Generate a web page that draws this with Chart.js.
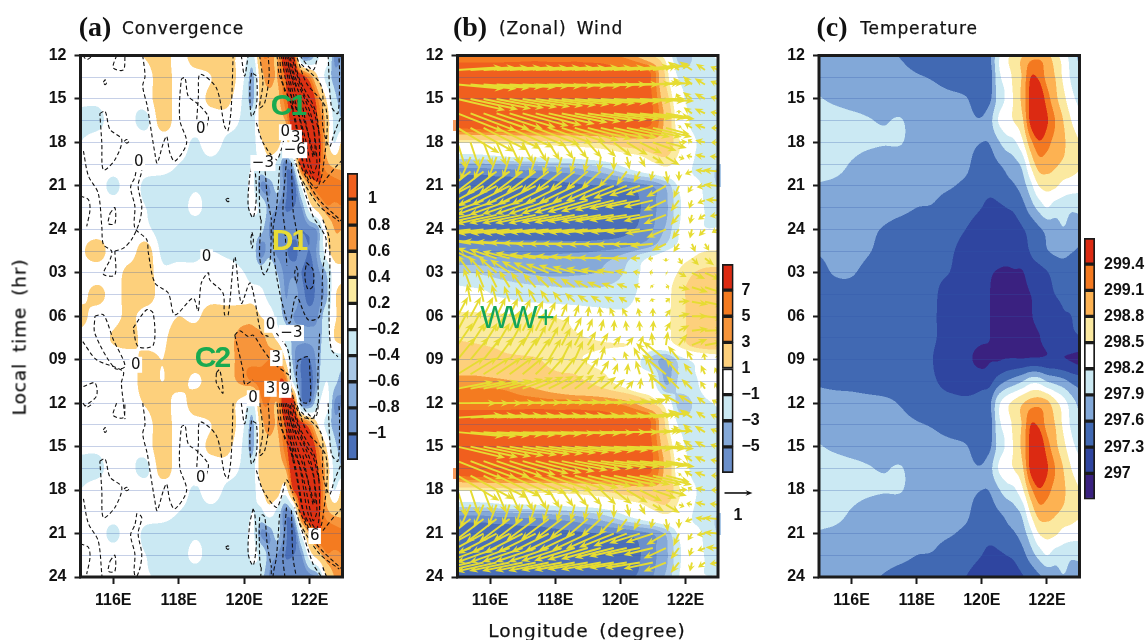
<!DOCTYPE html>
<html><head><meta charset="utf-8">
<script src="https://cdn.jsdelivr.net/npm/chart.js@4"></script>
<style>
html,body{margin:0;padding:0;background:#fff;width:1146px;height:640px;overflow:hidden}
canvas{position:absolute;left:0;top:0;pointer-events:none}
.t{position:absolute;white-space:nowrap;transform:translate(-50%,-50%);color:#111}
.n{font:bold 28px "Liberation Serif",serif}
.g{font:17px "DejaVu Sans",sans-serif;letter-spacing:.9px;word-spacing:4px;-webkit-text-stroke:.25px #111}
.m{font:bold 30px "Liberation Sans",sans-serif;letter-spacing:-2px}
.s{position:absolute}
</style></head><body>
<div class="s" style="left:453px;top:120px;width:5px;height:11px;background:#F79A5C"></div>
<div class="s" style="left:453px;top:468px;width:5px;height:11px;background:#F79A5C"></div>
<div class="s" style="left:717px;top:164px;width:4px;height:23px;background:#A9C7E6"></div>
<div class="s" style="left:717px;top:513px;width:4px;height:22px;background:#A9C7E6"></div>
<canvas id="ca" width="1146" height="640"></canvas>
<canvas id="cb" width="1146" height="640"></canvas>
<canvas id="cc" width="1146" height="640"></canvas>
<canvas id="ba" width="1146" height="640"></canvas>
<canvas id="bb" width="1146" height="640"></canvas>
<canvas id="bc" width="1146" height="640"></canvas>
<div class="t n" style="left:95px;top:27px">(a)</div>
<div class="t g" style="left:183px;top:28px">Convergence</div>
<div class="t n" style="left:470px;top:27px">(b)</div>
<div class="t g" style="left:561px;top:28px">(Zonal) Wind</div>
<div class="t n" style="left:832px;top:27px">(c)</div>
<div class="t g" style="left:919px;top:28px">Temperature</div>
<div class="t g" style="left:587px;top:630px;font-size:18.5px">Longitude (degree)</div>
<div class="t g" style="left:19px;top:337px;font-size:18.5px;transform:translate(-50%,-50%) rotate(-90deg)">Local time (hr)</div>
<div class="t m" style="left:288px;top:105px;color:#19AA50">C1</div>
<div class="t m" style="left:212px;top:357px;color:#19AA50">C2</div>
<div class="t m" style="left:289px;top:240px;color:#E8DC35">D1</div>
<div class="t" style="left:517px;top:318px;font:31px 'Liberation Sans',sans-serif;color:#12A55A;letter-spacing:-1px">WW+</div>
<div class="t" style="left:738px;top:515px;font:bold 16px 'Liberation Sans',sans-serif">1</div>
<script>
const lonTicks=[116,118,120,122];
const lonTickLabels=['116E','118E','120E','122E'];
const hourTickLabels=['12','15','18','21','24','03','06','09','12','15','18','21','24'];
const lonFine=[115,115.5,116,116.5,117,117.5,118,118.5,119,119.5,120,120.25,120.5,120.75,121,121.25,121.5,121.75,122,122.25,122.5,122.75,123];
const hoursFine=[12,13.5,15,16.5,18,19.5,21,22.5,24,25.5,27,28.5,30,31.5,33,34.5];
const convergence=[
[0,0,0,0,.25,.45,0,.45,.45,.35,0,-.3,.7,.8,.6,1.3,1.2,-.8,-.9,-.3,0,-.8,-.8],
[0,0,0,0,0,.45,0,0,.2,.45,-.2,-.7,.4,.7,.6,1,1.3,1.2,.8,.2,-.3,-.7,-.6],
[-.1,-.1,0,-.1,0,.45,0,0,.3,.3,-.3,-.7,.4,.5,.5,.9,1.3,1.3,1.3,.8,.2,-.5,-.7],
[-.35,-.35,0,-.1,-.3,.4,0,0,0,0,-.3,-.4,.4,.45,.45,.6,1.3,1.3,1.3,1,.5,-.3,-.6],
[-.2,0,0,0,0,0,0,-.25,0,-.3,-.35,-.35,.1,.45,.45,0,1,1.3,1.3,1.2,.5,-.2,.35],
[0,0,0,0,0,0,-.2,-.3,-.3,-.4,-.4,-.2,-.3,0,-.3,-.9,-.5,1.2,1.3,1.1,.7,.5,.5],
[0,0,-.3,0,-.3,-.4,-.4,-.25,-.35,-.4,-.35,-.1,-.8,-.8,-.5,-.9,-1.2,-.1,.7,.95,.95,.9,.85],
[0,0,0,0,-.2,-.4,-.4,-.1,-.4,-.4,-.4,-.1,-.3,-.7,-.8,-1,-1,-.8,0,.4,.75,.75,.8],
[0,0,0,0,-.1,-.4,-.4,-.4,-.4,-.4,-.4,-.4,-.5,-.8,-.9,-.9,-.9,-1,-.9,-.7,.2,.6,.6],
[.1,.4,0,0,.4,-.3,-.4,-.3,-.2,-.3,-.4,-.4,-.9,-.7,-.85,-.95,-1.1,-.9,-1,-.7,0,.4,.45],
[0,0,0,.35,.45,-.1,0,-.1,0,0,-.2,-.35,-.4,-.35,-.6,-.85,-.85,-1,-1.1,-.85,-.6,0,.1],
[0,.35,.05,.4,.45,0,0,0,0,0,0,0,-.1,-.3,-.4,-.8,-.7,-.9,-1.1,-.9,-.7,.1,.4],
[.4,0,.05,.3,0,0,.2,.1,.45,.4,.45,.45,.2,0,-.3,-.7,-.8,-.85,-.9,-.8,-.4,.1,.45],
[0,0,.25,.4,0,.1,.45,.45,.45,.5,.75,.75,.75,.45,.1,-.3,-.7,-.75,-.75,-.7,-.4,.2,.4],
[0,0,0,0,.35,.2,.45,.45,.45,.5,.75,.75,.75,.8,.85,.2,-.7,-1,-1,-.7,-.4,-.4,-.4],
[0,0,0,0,.4,.2,.4,.1,.45,.5,.7,.8,.9,.9,.95,.95,-.3,-1,-1.1,-.7,-.2,-.5,-.75]];
const temperature=[
[297.75,297.75,297.75,297.72,297.68,297.58,297.5,297.45,297.4,297.35,297.4,297.55,298.1,298.4,298.6,298.78,298.95,299,298.9,298.6,298.35,298.05,297.8],
[297.78,297.78,297.78,297.75,297.7,297.66,297.62,297.58,297.5,297.42,297.38,297.45,298.1,298.3,298.6,298.85,299.4,299.35,299,298.8,298.45,298.15,297.95],
[297.92,297.85,297.8,297.78,297.75,297.72,297.7,297.68,297.66,297.62,297.45,297.55,298,298.25,298.55,298.9,299.5,299.7,299.25,298.9,298.6,298.3,298.1],
[298.05,298.03,297.98,297.92,297.88,297.92,297.75,297.72,297.7,297.66,297.62,297.8,298.2,298.4,298.52,298.75,299.5,299.9,299.45,299.1,298.8,298.5,298.3],
[298.1,298.05,298,297.95,297.92,297.92,297.75,297.72,297.7,297.66,297.6,297.62,297.85,298.05,298.15,298.45,299,299.35,299.2,299,298.85,298.65,298.5],
[298.02,297.98,297.88,297.78,297.72,297.7,297.68,297.66,297.65,297.65,297.45,297.48,297.58,297.68,297.8,298,298.55,298.95,298.95,298.85,298.75,298.65,298.55],
[297.88,297.85,297.8,297.75,297.7,297.66,297.66,297.65,297.62,297.55,297.42,297.42,297.45,297.52,297.58,297.75,298.1,298.5,298.6,298.55,298.4,298.35,298.3],
[297.78,297.76,297.74,297.72,297.7,297.66,297.6,297.58,297.48,297.42,297.3,297.2,297.25,297.3,297.35,297.5,297.75,298,298.2,298.05,298.02,297.95,297.98],
[297.72,297.7,297.68,297.65,297.58,297.5,297.45,297.42,297.4,297.3,297.15,297.12,297.12,297.15,297.2,297.28,297.4,297.55,297.68,297.78,297.88,297.8,297.72],
[297.62,297.66,297.68,297.62,297.52,297.47,297.42,297.38,297.34,297.2,297.12,297.1,297.1,297.12,297.15,297.2,297.32,297.45,297.58,297.65,297.68,297.62,297.56],
[297.52,297.62,297.62,297.52,297.42,297.38,297.36,297.34,297.3,297.15,297.08,297.02,296.98,296.95,296.97,296.98,297.15,297.2,297.28,297.4,297.45,297.42,297.38],
[297.42,297.48,297.5,297.42,297.38,297.36,297.34,297.33,297.2,297.12,297.05,297,296.9,296.85,296.85,296.9,297,297.1,297.2,297.3,297.34,297.33,297.36],
[297.42,297.42,297.42,297.42,297.42,297.4,297.38,297.32,297.22,297.12,297.05,297,296.9,296.82,296.8,296.85,296.97,297.1,297.15,297.2,297.28,297.3,297.35],
[297.42,297.42,297.42,297.42,297.42,297.4,297.38,297.32,297.22,297.12,297.05,297,296.92,296.85,296.82,296.85,296.9,296.98,297.1,297.15,297.22,297.25,297.28],
[297.42,297.42,297.42,297.42,297.4,297.38,297.36,297.3,297.15,297.08,296.9,296.98,296.98,297.02,297.03,297.03,297.05,297.05,297.05,297.05,297.02,296.98,296.92],
[297.55,297.5,297.47,297.42,297.38,297.37,297.36,297.33,297.2,297.18,297.2,297.22,297.45,297.62,297.75,297.9,298.1,298.1,297.9,297.8,297.7,297.55,297.45]];
const lonWind=[115,115.4,115.8,116.2,116.6,117,117.4,117.8,118.2,118.6,119,119.4,119.8,120.2,120.6,121,121.4,121.8,122.2,122.6,123];
const hoursWind=[12,13,14,15,16,17,18,19,20,21,22,23,24,25,26,27,28,29,30,31,32,33,34,35];
const uWind=[
[5.6,5.6,5.6,5.6,5.6,5.6,5.6,5.5,5.5,5.5,5.4,5.3,5,4.5,3.5,2,.3,-2.4,-2,-1.2,-.9],
[6.4,6.4,6.4,6.4,6.4,6.4,6.4,6.4,6.3,6.3,6.3,6.3,6.2,6.2,6.1,5.4,1.5,-1.6,-1.8,-1.3,-1.1],
[6.6,6.6,6.6,6.6,6.6,6.6,6.6,6.6,6.6,6.6,6.6,6.6,6.5,6.4,6.3,5.7,2,-.8,-1.3,-1.5,-1.1],
[6.8,6.8,6.8,6.8,6.8,6.8,6.8,6.8,6.8,6.8,6.8,6.8,6.7,6.6,6.5,5.9,2.8,-.4,-1.3,-1.5,-1.1],
[6.6,6.6,6.6,6.6,6.6,6.6,6.6,6.6,6.6,6.6,6.6,6.6,6.6,6.5,6.4,6,3.5,0,-1.2,-1.5,-1.1],
[6,6.2,6.3,6.3,6.3,6.3,6.3,6.3,6.3,6.3,6.3,6.3,6.2,6.2,6,5.6,3.4,.3,-1.1,-1.5,-1],
[1.2,1.2,1.3,1.4,1.5,1.5,1.6,1.6,1.7,1.8,2,2.2,2.6,3,3.2,3.4,3,1.2,-.6,-1.4,-1],
[-1.5,-1.5,-1.4,-1.2,-1,-1,-.9,-.8,-.7,-.6,-.5,-.3,0,.4,.8,1.6,2,.8,-.8,-1.4,-1.2],
[-4.6,-4.6,-4.6,-4.4,-4.4,-4.2,-4.2,-4,-3.8,-3.6,-3.2,-2.8,-2.2,-1.5,-.9,-.3,.3,0,-1,-1.4,-2.2],
[-5.6,-5.6,-5.6,-5.6,-5.5,-5.5,-5.5,-5.4,-5.3,-5.2,-5.1,-5,-5,-4.8,-4.4,-3.9,-2.8,-.8,-.6,-1.2,-2.1],
[-5.8,-5.8,-5.8,-5.8,-5.8,-5.8,-5.8,-5.8,-5.8,-5.8,-5.8,-5.7,-5.6,-5.4,-5,-4.2,-3.2,-1.2,-.4,-1.1,-1.8],
[-5.8,-5.8,-5.8,-5.8,-5.8,-5.8,-5.8,-5.8,-5.8,-5.8,-5.8,-5.7,-5.6,-5.4,-5,-4.2,-3.2,-1.2,-.3,-1,-1.2],
[-5.6,-5.6,-5.6,-5.6,-5.6,-5.6,-5.6,-5.6,-5.6,-5.6,-5.6,-5.6,-5.5,-5.2,-4.8,-4,-2.8,-1,-.3,-.9,-.9],
[-4.8,-4.8,-4.8,-4.8,-4.8,-4.8,-4.8,-4.8,-4.8,-4.8,-4.8,-4.7,-4.6,-4.4,-4,-3.3,-2,-.8,.5,.6,.7],
[-3.8,-3.8,-3.8,-3.9,-3.9,-3.9,-3.8,-3.8,-3.7,-3.6,-3.5,-3.3,-3,-2.3,-1.4,-.7,0,.5,1,1.3,1.3],
[-2,-2,-2.2,-2.5,-2.8,-3,-3.2,-3.3,-3.3,-3.2,-3.1,-2.9,-2.5,-1.8,-1,-.5,.2,1.1,1.9,2.3,2.4],
[-.9,-1,-1.1,-1.3,-1.5,-1.7,-1.8,-1.9,-2,-2,-2,-2,-1.8,-1.5,-.9,-.3,.5,1.6,2.3,2.6,2.7],
[-.5,-.5,-.6,-.7,-.8,-1,-1.1,-1.2,-1.3,-1.4,-1.5,-1.5,-1.4,-1.2,-.7,-.2,.6,1.6,2.3,2.7,2.8],
[1.5,1.5,1.4,1.3,1.2,1.15,1.1,1,.8,.6,.2,-.2,-.6,-.7,-.3,0,.7,1.6,2.3,2.7,2.8],
[1.6,1.6,1.6,1.5,1.5,1.4,1.3,1.2,1.1,1,.7,.4,.1,-.2,-.1,.1,.7,1.5,2.3,2.7,2.8],
[2.2,2.1,2,1.9,1.7,1.6,1.5,1.4,1.3,1.2,1.2,1.1,1.05,1,.5,-.2,.3,1.2,2.2,2.6,2.7],
[2.6,2.6,2.5,2.4,2.3,2.2,2.1,1.8,1.5,1.2,.9,.6,.2,-.4,-.9,-2.4,-3.3,-1.6,-.8,-.2,.1],
[3.9,3.9,3.8,3.6,3.4,3,2.6,2.3,2.1,2,1.6,1.2,.6,.2,-.6,-1,-3.4,-1.9,-1.2,-.6,-.5],
[5.1,5.1,5,5,4.8,4.4,4,3.6,3.2,2.8,2.6,2.2,1.6,1,.2,-.2,-2.6,-1.8,-1.5,-.7,-.5]];
const vWind=[
[0,0,0,.1,.1,.1,.2,.2,.2,.2,.2,.2,.3,.3,.4,.6,1,1.3,1.2,.9,.5],
[.4,.4,.4,.4,.4,.4,.4,.4,.4,.4,.4,.4,.4,.5,.6,.7,.8,1.2,1.2,.9,.5],
[-.6,-.6,-.5,-.4,-.4,-.3,-.3,-.2,-.2,-.2,-.1,0,0,.1,.2,.2,.3,1,1.2,.9,.5],
[-1.6,-1.5,-1.4,-1.3,-1.2,-1.1,-1,-.9,-.8,-.7,-.6,-.5,-.4,-.3,-.3,-.3,0,.8,1,.8,.3],
[-2.6,-2.5,-2.3,-2.2,-2,-1.8,-1.7,-1.5,-1.3,-1.2,-1,-.9,-.8,-.7,-.7,-.8,-.6,.5,.9,.7,.2],
[-3.6,-3.4,-3.2,-3,-2.8,-2.6,-2.4,-2.2,-2,-1.8,-1.6,-1.5,-1.4,-1.3,-1.3,-1.3,-.9,.3,.7,.5,0],
[-3.8,-3.6,-3.4,-3.3,-3.2,-3,-2.8,-2.6,-2.4,-2.3,-2.2,-2.1,-2,-1.8,-1.6,-1.2,-.8,.1,.4,.3,0],
[-3.4,-3.4,-3.3,-3.2,-3.1,-3,-2.8,-2.6,-2.5,-2.4,-2.3,-2.2,-2,-1.8,-1.5,-1,-1.2,-.3,.2,.3,.1],
[-3.6,-3.6,-3.5,-3.4,-3.3,-3.2,-3.1,-3,-2.9,-2.8,-2.7,-2.5,-2.3,-2,-1.6,-1.4,-1.8,-1.4,-.4,.2,.2],
[-3,-3,-3,-2.9,-2.8,-2.8,-2.7,-2.7,-2.6,-2.5,-2.4,-2.2,-2,-1.8,-1.4,-1.3,-1.6,-1.8,-1,-.2,.2],
[-2.2,-2.2,-2.2,-2.1,-2.1,-2,-2,-2,-1.9,-1.8,-1.7,-1.6,-1.4,-1.2,-1,-1,-1.5,-1.6,-1.2,-.4,.1],
[-1.3,-1.3,-1.3,-1.3,-1.2,-1.2,-1.2,-1.2,-1.1,-1.1,-1,-1,-.9,-.8,-.8,-.9,-1.3,-1.5,-1.3,-.7,-.2],
[-.6,-.6,-.6,-.6,-.6,-.6,-.6,-.5,-.5,-.5,-.5,-.5,-.4,-.4,-.4,-.6,-1.2,-1.4,-1.3,-1,-.5],
[1,.8,.6,.4,.3,.2,.1,0,0,0,-.1,-.1,-.1,-.1,-.1,-.3,-1,-1.2,-1.2,-1,-.7],
[1.8,1.7,1.5,1.3,1,.8,.6,.5,.4,.3,.2,.1,.1,0,0,-.1,-.5,-.9,-1,-1,-.8],
[2.6,2.6,2.4,2.2,1.9,1.7,1.5,1.3,1.1,.9,.7,.5,.4,.3,.2,.1,-.1,-.6,-.9,-1,-.9],
[2.8,2.8,2.7,2.6,2.4,2.2,2,1.8,1.5,1.3,1,.8,.6,.5,.4,.3,.2,-.3,-.7,-.8,-.8],
[2.6,2.6,2.6,2.5,2.3,2.1,1.9,1.7,1.5,1.3,1,.9,.8,.7,.6,.5,.5,.1,-.4,-.6,-.6],
[2.8,2.8,2.8,2.7,2.6,2.5,2.3,2.1,1.9,1.7,1.5,1.4,1.3,1.2,1.2,1.2,1,.4,0,-.3,-.3],
[3,3,3,3,2.9,2.8,2.6,2.4,2.2,2,1.8,1.7,1.6,1.5,1.5,1.5,1.3,.8,.3,.1,.1],
[3.2,3.2,3.2,3.2,3.1,3,2.9,2.7,2.5,2.3,2,1.8,1.4,1.2,1.4,1.9,2,1.6,.9,.5,.4],
[3.2,3.2,3.2,3.2,3.2,3.2,3.1,3,2.9,2.7,2.4,2,.2,1.2,1.8,2.4,2.6,2,1.4,1,.8],
[2.4,2.4,2.4,2.4,2.5,2.5,2.5,2.6,2.6,2.6,2.4,2,1.6,1.6,2,2.6,2.8,2.2,1.6,1.3,1],
[1,1,1.1,1.2,1.4,1.6,1.7,1.8,1.9,2,1.9,1.7,1.4,1.2,1.6,2.2,2.2,1.8,1.4,1.1,.9]];
const contourLines=[
[[115.07,12],[115.19,12.28],[115.39,12]],
[[116.1,12],[116,12.85],[116.31,13],[116.36,12]],
[[115.7,13.85],[115.75,13.68],[115.8,13.85],[115.75,14.02],[115.7,13.85]],
[[116.9,12],[116.97,13.43],[116.9,14.12],[117.04,15.5],[117.12,16.65],[117.27,18.73],[117.34,19.42],[117.53,18.04],[117.63,17.58],[117.73,18.73],[117.88,19.3],[118.24,18.04],[118.03,16.42],[118.08,13.66],[118.19,13.54],[118.29,14.81],[118.56,15.3],[118.9,16.2],[118.85,16.9]],
[[118.55,16.4],[118.6,14.81],[118.65,13.3],[119.15,14.25],[119.4,16.9],[119.5,17.2],[119.6,15.7],[119.66,12]],
[[119.91,12],[120.01,13.43],[120.12,12]],
[[120.22,13.2],[120.17,14.35],[120.22,16.2],[120.37,15.5],[120.37,13.43],[120.22,13.2]],
[[120.47,12],[120.57,13.9],[120.47,15.6],[120.62,15.3],[120.76,13.4],[120.73,12]],
[[115.59,16],[115.75,15.85],[115.9,17.1],[116.26,17.8],[116.05,19.2],[115.7,19.9],[115.65,18],[115.59,16]],
[[116.33,17.92],[116.41,17.8],[116.48,17.92],[116.41,18.05],[116.33,17.92]],
[[115.09,18.6],[115.24,20.3],[115.54,21.5],[115.65,23.8],[115.7,25.06],[115.95,25.5],[115.9,26.1],[115.7,27.1],[116.05,27.15],[116.05,25.5]],
[[116.05,25.5],[116.31,25.3],[116.56,24.7],[116.8,23.5],[116.87,22.4],[116.76,21],[116.87,19.9],[116.76,19.6]],
[[116.72,19.6],[116.66,20.4],[116.53,21.1],[116.66,22.4],[116.66,23.9],[117.02,24.7],[117.07,25.6],[117.27,27.7],[117.68,28.4],[117.88,29.9],[118.44,28.75],[118.59,29.65],[118.69,27.7],[118.9,27],[118.95,27.5],[119.35,28.4],[119.4,29.9],[119.51,29.9],[119.71,25.9],[119.91,29.1],[120.17,27.7],[120.32,28.85],[120.52,31.15],[120.74,31.4]],
[[120.24,24.2],[120.28,24.7],[120.24,25.3],[120.2,24.7],[120.24,24.2]],
[[120.52,23.33],[120.47,25.86],[120.6,27.13],[120.78,26.33],[120.83,23.33]],
[[120.5,23.33],[120.47,22.65],[120.47,19.9],[120.56,19.7],[120.63,19.9],[120.7,21.7],[120.83,23.33]],
[[120.27,19.3],[120.17,20.3],[120.12,22.4],[120.27,23.2],[120.37,21.7],[120.32,19.6],[120.27,19.3]],
[[121.08,19.65],[120.98,22.65],[120.88,24],[120.98,27.13],[121.29,30.24],[121.39,30.47],[121.59,28.63],[121.95,30.24],[122.3,30],[122.4,26.8],[122.5,24.7],[122.3,23.8],[122.1,23.1],[121.54,19.2]],
[[121.29,19.2],[121.18,22.65],[121.24,24],[121.3,26.5]],
[[121.44,19.4],[121.49,22.65],[121.59,24],[121.7,25.5]],
[[121.9,26.3],[122.1,26.8],[122.1,27.9],[121.95,28.15],[121.85,27.25],[121.9,26.3]],
[[121.59,26.55],[121.64,27],[121.59,27.7],[121.54,27],[121.59,26.55]],
[[121.49,18.5],[122.2,21.7],[123,23.5]],
[[122.4,23.33],[122.6,24.7],[122.59,30.2],[122.66,32.3],[122.86,32.8]],
[[121.68,20.3],[122.3,22.4],[122.9,23.45]],
[[122.4,20.8],[122.81,19.65],[123,19.2]],
[[120.98,31.16],[121.29,32.1],[121.39,33],[121.44,35.1],[121.74,36.9],[122.2,36.9],[122.25,33.9],[122.3,31.2]],
[[121.69,12],[122.1,13],[122.25,12]],
[[121.64,33.05],[121.95,32.8],[122,33.7],[122,35.9],[121.74,35.9],[121.59,34.1],[121.64,33.05]],
[[115.07,31.75],[115.49,33],[116.3,33.8],[116.25,34.6],[116.3,35.8],[116.36,37.1]],
[[115.09,34.85],[115.44,34.6],[115.49,35.5],[115.14,36.2]],
[[115.44,30],[115.7,29.9],[116,31.6],[116.36,33.45],[116.05,33.6],[115.44,31.2],[115.44,30]],
[[116.61,30.8],[117.02,29.55],[117.22,29.8],[117.22,32],[116.76,32.1],[116.61,30.8]],
[[119.15,33.9],[119.25,33.7],[119.35,35.3],[119.15,34.6],[119.15,33.9]],
[[119.71,31.3],[119.86,31],[120.12,31.4],[120.27,31.3],[120.57,32.3],[120.88,33.2],[121.39,34.1]],
[[119.71,31.3],[119.96,33.7],[120.02,34.7],[120.27,34.4]],
[[121,12],[121.08,13.4],[121.49,15.7],[121.69,18],[121.9,20.3],[122.2,21.15],[122.4,19.9],[122.5,15.7],[121.9,13.9],[121.59,12]],
[[121.13,12],[121.29,13.9],[121.69,16.4],[121.95,19.65],[122.2,20.7],[122.3,19.4],[122.2,16],[121.69,13.66],[121.49,12]],
[[121.24,12],[121.49,14.6],[121.85,17.6],[122.1,20.1],[122.22,19.4],[122.05,16.2],[121.54,13.4],[121.39,12]],
[[121.29,12],[121.59,14.8],[121.95,17.35],[122.15,18.95],[122.1,16.9],[121.59,14.1],[121.34,12]],
[[121.08,12],[121.13,13.4],[121.24,14.5]],
[[121.18,12],[121.3,13.2],[121.44,14.8],[121.5,16]],
[[121.34,12.6],[121.44,13.4],[121.64,14.4]],
[[121.44,12],[121.59,13.2],[121.85,14.8],[122.1,15.7],[122.3,17.5]],
[[121.39,15],[121.59,17],[121.79,19.4],[122.05,20.6]],
[[121.79,15.6],[122,18],[122.1,19]],
[[121.74,12.6],[122.35,14.1],[122.4,16.9],[122.6,18.3],[122.75,17.35],[122.96,16.2]],
[[122.56,12],[122.66,15.5],[122.86,16],[122.91,13.2],[122.89,12]],
[[120.37,16.65],[120.57,18],[120.98,19.2],[121.13,18.5],[121.29,17.3],[121.49,18.2]],
[[115,21.7],[115.24,21.95],[115.29,22.65],[115.19,23.8]],
[[115.9,22.9],[116.05,22.5],[116.05,23.6],[115.85,23.6],[115.9,22.9]],
[[119.43,21.95],[119.5,21.85],[119.56,21.95],[119.5,22.1],[119.43,21.95]]];
const contourLabelText=['0','0','0','3','−6','−3','0','0','0','−3','3','3','9','0','0','6'];
const contourLabelLon=[118.67,116.78,121.25,121.57,121.54,120.57,118.85,116.69,120.8,121.44,120.98,120.8,121.25,120.27,118.67,122.15];
const contourLabelHour=[17.07,19.37,17.3,17.69,18.54,19.42,25.93,33.35,30.59,31.16,32.89,35.01,35.08,35.66,41.18,45.17];
const convBreaks=[-1,-.8,-.6,-.2,.2,.6,.8,1];
const convFill=['#4A6FB8','#6A8FCB','#85A9D8','#CBE9F3','#FFFFFF','#FDD07C','#F7953B','#F47B20','#DC3012'];
const windBreaks=[-5,-4,-3,-2,-1,1,2,4,5,6];
const windFill=['#4A6FB8','#6A8FCB','#85A9D8','#A9C7E6','#CBE9F3','#FFFFFF','#FBEBA0','#FDD07C','#F79A3C','#F47B20','#F05F1E'];
const tempBreaks=[297,297.3,297.6,297.9,298.2,298.5,298.8,299.1,299.4];
const tempFill=['#3A2180','#2F45A0','#4169B3','#82A8D8','#CBE9F3','#FFFFFF','#FBE9A0','#FDB252','#F47920','#DC2A12'];
const convBar=['#4A6FB8','#6A8FCB','#85A9D8','#A9C7E6','#CBE9F3','#FFFFFF','#FBEBA0','#FDD07C','#F7953B','#F47B20','#F05F1E'];
const convBarLabels=['−1','−0.8','−0.6','−0.4','−0.2','0.2','0.4','0.6','0.8','1'];
const windBar=['#6A8FCB','#85A9D8','#CBE9F3','#FFFFFF','#FDD07C','#F7953B','#F47B20','#DC2A12'];
const windBarLabels=['−5','−3','−1','1','3','5','7'];
const tempBar=['#3A2180','#2F45A0','#4169B3','#82A8D8','#CBE9F3','#FFFFFF','#FBE9A0','#FDB252','#F47920','#DC2A12'];
const tempBarLabels=['297','297.3','297.6','297.9','298.2','298.5','298.8','299.1','299.4'];

const tickFont={family:'"Liberation Sans",sans-serif',size:16,weight:'bold'};
const INK='#1b1b1b';
function rgb(h){return [parseInt(h.slice(1,3),16),parseInt(h.slice(3,5),16),parseInt(h.slice(5,7),16)];}

function hermiteRow(lons,row,lon){
  let i=0;while(i<lons.length-2&&lon>lons[i+1])i++;
  const x0=lons[i],x1=lons[i+1],h=x1-x0,t=Math.min(1,Math.max(0,(lon-x0)/h));
  const a=Math.max(i-1,0),b=Math.min(i+2,lons.length-1);
  const m0=(row[i+1]-row[a])/(x1-lons[a]),m1=(row[b]-row[i])/(lons[b]-x0);
  const t2=t*t,t3=t2*t;
  return (2*t3-3*t2+1)*row[i]+(t3-2*t2+t)*h*m0+(-2*t3+3*t2)*row[i+1]+(t3-t2)*h*m1;
}
function fieldPlugin(lons,hours,rows,breaks,fill){
  const cols=fill.map(rgb),step=hours[1]-hours[0],n=rows.length,SS=2;
  return {id:'field',beforeDraw(chart){
    const a=chart.chartArea,xs=chart.scales.x,ys=chart.scales.y;
    const W=Math.round(a.width*SS),H=Math.round(a.height*SS);
    const off=document.createElement('canvas');off.width=W;off.height=H;
    const oc=off.getContext('2d'),img=oc.createImageData(W,H),d=img.data;
    const vals=new Array(n);
    for(let px=0;px<W;px++){
      const lon=xs.getValueForPixel(a.left+(px+.5)/SS);
      for(let r=0;r<n;r++)vals[r]=hermiteRow(lons,rows[r],lon);
      for(let py=0;py<H;py++){
        const hr=ys.getValueForPixel(a.top+(py+.5)/SS);
        const q=(((hr-hours[0])%(n*step))+n*step)%(n*step)/step;
        const i=Math.floor(q),t=q-i;
        const p0=vals[(i-1+n)%n],p1=vals[i%n],p2=vals[(i+1)%n],p3=vals[(i+2)%n];
        const v=.5*(2*p1+(p2-p0)*t+(2*p0-5*p1+4*p2-p3)*t*t+(3*p1-p0-3*p2+p3)*t*t*t);
        let k=0;while(k<breaks.length&&v>=breaks[k])k++;
        const c=cols[k],o=(py*W+px)*4;
        d[o]=c[0];d[o+1]=c[1];d[o+2]=c[2];d[o+3]=255;
      }
    }
    oc.putImageData(img,0,0);
    const ctx=chart.ctx;ctx.save();ctx.imageSmoothingEnabled=true;
    ctx.drawImage(off,a.left,a.top,a.width,a.height);ctx.restore();
  }};
}
const framePlugin={id:'frame',afterDraw(chart){
  const a=chart.chartArea,c=chart.ctx;c.save();c.strokeStyle=INK;c.lineWidth=3;
  c.strokeRect(a.left,a.top,a.width,a.height);c.restore();
}};
function drawArrow(c,x0,y0,dx,dy,color,lw,hl,hw){
  const L=Math.hypot(dx,dy);if(L<.5)return;
  const ux=dx/L,uy=dy/L,x1=x0+dx,y1=y0+dy,h=Math.min(hl,L*.75);
  c.strokeStyle=color;c.fillStyle=color;c.lineWidth=lw;
  c.beginPath();c.moveTo(x0,y0);c.lineTo(x1-ux*h*.6,y1-uy*h*.6);c.stroke();
  c.beginPath();c.moveTo(x1,y1);
  c.lineTo(x1-ux*h-uy*hw,y1-uy*h+ux*hw);
  c.lineTo(x1-ux*h*.65,y1-uy*h*.65);
  c.lineTo(x1-ux*h+uy*hw,y1-uy*h-ux*hw);c.closePath();c.fill();
}
const PX_PER_WIND=7,PX_PER_REF=28;
const windPlugin={id:'wind',afterDatasetsDraw(chart){
  const a=chart.chartArea,xs=chart.scales.x,ys=chart.scales.y,c=chart.ctx;
  c.save();c.beginPath();c.rect(a.left-1,a.top-1,a.width+2,a.height+2);c.clip();
  for(let hr=12;hr<=48;hr++){
    const r=(hr-12)%24;
    lonWind.forEach((lon,j)=>{
      const x=xs.getPixelForValue(lon),y=ys.getPixelForValue(hr);
      if(hr===12||hr===48){c.fillStyle='#E6DC32';c.fillRect(x-1,y-1,2,2);return;}
      drawArrow(c,x,y,uWind[r][j]*PX_PER_WIND,-vWind[r][j]*PX_PER_WIND,'#E6DC32',1.9,9,3.6);
    });
  }
  c.restore();
  drawArrow(c,xs.getPixelForValue(123.2),ys.getPixelForValue(42.2),PX_PER_REF,0,'#111',1.6,7,2.8);
}};
const labelPlugin={id:'clabels',afterDatasetsDraw(chart){
  const xs=chart.scales.x,ys=chart.scales.y,c=chart.ctx;
  c.save();c.font='15px "DejaVu Sans",sans-serif';c.textAlign='center';c.textBaseline='middle';
  contourLabelText.forEach((s,i)=>{
    const x=xs.getPixelForValue(contourLabelLon[i]),y=ys.getPixelForValue(contourLabelHour[i]);
    const w=c.measureText(s).width+3;
    c.fillStyle='#fff';c.fillRect(x-w/2,y-8,w,16);
    c.fillStyle='#111';c.fillText(s,x,y);
  });
  c.restore();
}};
function gridNodes(lons,hours,rows){
  const out=[];rows.forEach((row,r)=>row.forEach((v,j)=>out.push({x:lons[j],y:hours[r],v})));return out;
}
function panel(id,box,nodes,extra,plugins){
  return new Chart(document.getElementById(id),{
    type:'scatter',
    data:{datasets:[{label:'field',data:nodes,pointRadius:0,showLine:false},...extra]},
    plugins:[...plugins,framePlugin],
    options:{responsive:false,animation:false,events:[],
      layout:{autoPadding:false,padding:{left:box.l-60,right:1146-box.r,top:55.5,bottom:640-577-40}},
      plugins:{legend:{display:false},tooltip:{enabled:false},title:{display:false}},
      scales:{
        x:{type:'linear',min:115,max:123,afterFit:s=>{s.height=40;},
          afterBuildTicks:s=>{s.ticks=lonTicks.map(v=>({value:v}));},
          border:{display:false},
          grid:{drawOnChartArea:false,tickLength:7,tickWidth:2,tickColor:INK},
          ticks:{padding:7,font:tickFont,color:'#111',maxRotation:0,autoSkip:false,
            callback:v=>lonTickLabels[lonTicks.indexOf(v)]}},
        y:{type:'linear',reverse:true,min:12,max:48,afterFit:s=>{s.width=60;},
          afterBuildTicks:s=>{const t=[];for(let h=12;h<=48;h+=1.5)t.push({value:h});s.ticks=t;},
          border:{display:false},
          grid:{color:'rgba(50,85,170,.28)',lineWidth:1,tickLength:6,tickWidth:2,
            tickColor:c=>c.tick&&c.tick.value%3===0?INK:'rgba(0,0,0,0)'},
          ticks:{padding:8,font:tickFont,color:'#111',autoSkip:false,
            callback:v=>v%3===0?hourTickLabels[(v-12)/3]:''}}
      }}
  });
}
function colorBar(id,box,colors,labels){
  const n=colors.length;
  new Chart(document.getElementById(id),{
    type:'bar',
    data:{labels:['levels'],datasets:colors.map((col,i)=>({data:[[i,i+1]],grouped:false,backgroundColor:col,borderColor:INK,borderWidth:2,borderSkipped:false,barPercentage:1,categoryPercentage:1}))},
    options:{responsive:false,animation:false,events:[],
      layout:{autoPadding:false,padding:{left:box.l,right:1146-box.r-50,top:box.t,bottom:640-box.b}},
      plugins:{legend:{display:false},tooltip:{enabled:false}},
      scales:{
        x:{display:false},
        y:{position:'right',min:0,max:n,afterFit:s=>{s.width=50;},border:{display:false},
          afterBuildTicks:s=>{s.ticks=labels.map((_,i)=>({value:i+1}));},
          grid:{display:false,drawTicks:false},
          ticks:{padding:box.pad,font:tickFont,color:'#111',autoSkip:false,
            callback:v=>labels[v-1]}}
      }}
  });
}
const contourSets=[];
[0,24].forEach(off=>contourLines.forEach(line=>contourSets.push({
  type:'scatter',showLine:true,tension:.3,pointRadius:0,borderColor:'#111',borderWidth:1.1,borderDash:[4,2.6],
  data:line.map(p=>({x:p[0],y:p[1]+off}))})));
panel('ca',{l:80.5,r:342.5},gridNodes(lonFine,hoursFine,convergence),contourSets,[fieldPlugin(lonFine,hoursFine,convergence,convBreaks,convFill),labelPlugin]);
panel('cb',{l:457.5,r:718},gridNodes(lonWind,hoursWind,uWind),[],[fieldPlugin(lonWind,hoursWind,uWind,windBreaks,windFill),windPlugin]);
panel('cc',{l:819,r:1079.5},gridNodes(lonFine,hoursFine,temperature),[],[fieldPlugin(lonFine,hoursFine,temperature,tempBreaks,tempFill)]);
colorBar('ba',{l:347,r:358,t:173,b:460,pad:10},convBar,convBarLabels);
colorBar('bb',{l:722,r:733.5,t:264,b:473,pad:8},windBar,windBarLabels);
colorBar('bc',{l:1084,r:1095,t:238,b:499.5,pad:9},tempBar,tempBarLabels);
</script>
</body></html>
